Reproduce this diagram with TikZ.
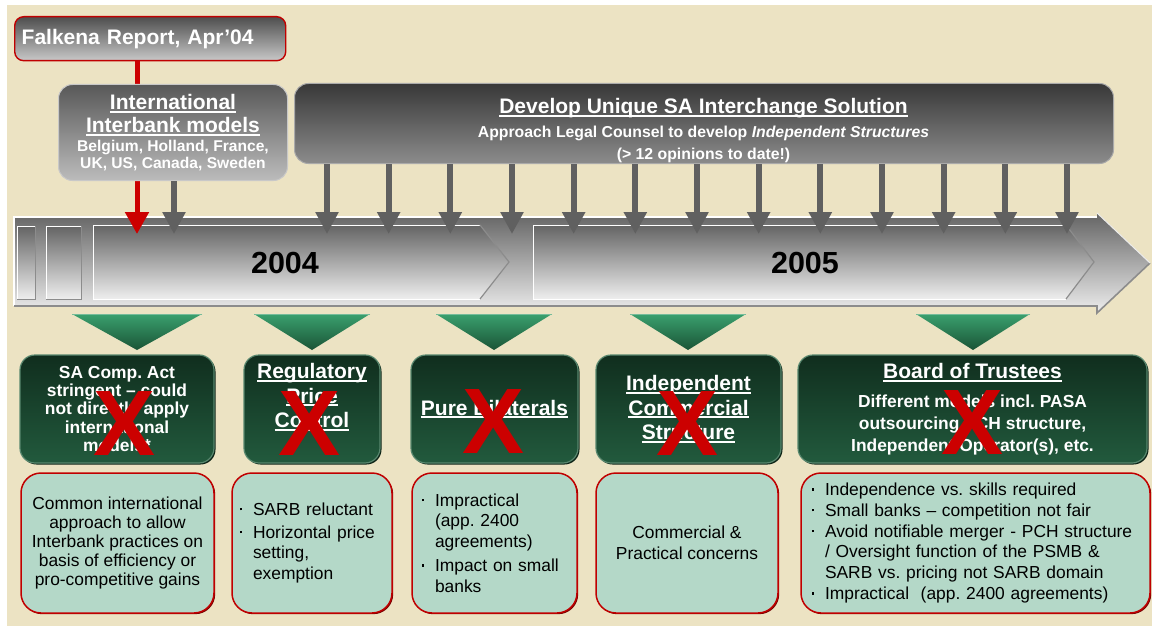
\documentclass[tikz,border=0pt]{standalone}
\usepackage{fontspec}
\setmainfont{Liberation Sans}
\usetikzlibrary{arrows.meta,shadows}
\frenchspacing

\definecolor{paper}{RGB}{236,227,195}
\definecolor{xred}{RGB}{204,0,0}
\definecolor{frame}{RGB}{192,0,0}
\definecolor{mint}{RGB}{180,216,200}
\definecolor{gtop}{RGB}{16,46,30}
\definecolor{gbot}{RGB}{34,90,61}
\definecolor{gedge}{RGB}{88,135,110}
\definecolor{gshadow}{RGB}{12,36,22}
\definecolor{ttop}{RGB}{58,160,110}
\definecolor{tbot}{RGB}{26,84,54}
\definecolor{arrowgray}{RGB}{96,96,96}
\definecolor{falktop}{RGB}{78,78,78}
\definecolor{falkbot}{RGB}{200,200,200}
\definecolor{intltop}{RGB}{88,88,88}
\definecolor{intlbot}{RGB}{188,188,188}
\definecolor{intledge}{RGB}{200,200,200}
\definecolor{devtop}{RGB}{56,56,56}
\definecolor{devbot}{RGB}{140,140,140}
\definecolor{devedge}{RGB}{170,170,170}
\definecolor{bartop}{RGB}{100,100,100}
\definecolor{barbot}{RGB}{238,238,238}
\definecolor{edgegray}{RGB}{140,140,140}

% thick underline used for the headings
\newcommand\hdul[1]{\leavevmode\setbox0=\hbox{#1}\rlap{\rule[-3.2pt]{\wd0}{1.8pt}}\box0}
% small square bullet and matching hanging indent
\newcommand\bul{\makebox[13pt][l]{\rule[5pt]{2.2pt}{2.2pt}}}
\newcommand\bulind{\hspace*{13pt}}

\tikzset{
  falkbox/.style={draw=frame, line width=1.4pt, rounded corners=9pt,
    top color=falktop, bottom color=falkbot, text=white,
    font=\bfseries\fontsize{21}{24}\selectfont, align=left,
    text width=257pt, inner xsep=7pt, inner ysep=0pt, minimum height=44pt, anchor=north west},
  intlbox/.style={draw=intledge, line width=1pt, rounded corners=14pt,
    top color=intltop, bottom color=intlbot, text=white,
    font=\bfseries\fontsize{21}{23}\selectfont, align=center,
    minimum width=229pt, minimum height=96pt, inner sep=0pt, anchor=north west},
  devbox/.style={draw=devedge, line width=1pt, rounded corners=14pt,
    top color=devtop, bottom color=devbot,
    minimum width=819pt, minimum height=80pt, inner sep=0pt, anchor=north west},
  devtext/.style={text=white, font=\bfseries\fontsize{15.8}{22}\selectfont, align=center, inner sep=0pt},
  redarrow/.style={draw=xred, line width=5pt, -{Triangle[width=23pt,length=22pt]}},
  grayarrow/.style={draw=arrowgray, line width=6pt, -{Triangle[width=22pt,length=22pt]}},
  yearlabel/.style={font=\bfseries\fontsize{30.5}{30.5}\selectfont, text=black, inner sep=0pt},
  greenbox/.style={draw=gedge, line width=1.2pt, rounded corners=15pt,
    top color=gtop, bottom color=gbot, text=white, align=center, inner sep=0pt,
    minimum height=108pt,
    drop shadow={shadow xshift=1.5pt, shadow yshift=-1.5pt, fill=gshadow, opacity=1}},
  gtext/.style={text=white, align=center, inner sep=0pt},
  gsmall/.style={font=\bfseries\fontsize{17.4}{18.3}\selectfont},
  glarge/.style={font=\bfseries\fontsize{21}{24.5}\selectfont},
  xmark/.style={text=xred, font=\bfseries\fontsize{93}{93}\selectfont, inner sep=0pt},
  mintbox/.style={draw=frame, line width=1.5pt, rounded corners=20pt, fill=mint,
    minimum height=140pt, inner xsep=10pt, inner ysep=0pt,
    font=\fontsize{17.4}{20.8}\selectfont,
    drop shadow={shadow xshift=1.2pt, shadow yshift=-1.2pt, fill=frame!60!black, opacity=1}},
}

\begin{document}
\begin{tikzpicture}[x=1pt,y=-1pt]
\useasboundingbox (0,0) rectangle (1152,626);
\fill[white] (0,0) rectangle (1152,626);
\fill[paper] (7,5) rectangle (1152,626);

% ---- time line arrow ----
\shade[top color=bartop, bottom color=barbot]
  (14,217) -- (1097,217) -- (1097,213) -- (1150,263) -- (1097,313) -- (1097,306) -- (14,306) -- cycle;
\draw[white, line width=1.2pt] (14,306) -- (14,217) -- (1097,217);
\draw[edgegray, line width=1.6pt] (14,306) -- (1097,306) -- (1097,313) -- (1150,263);
\draw[white!85!gray, line width=1pt] (1097,213) -- (1150,263);

\foreach \xa/\xb in {17/35, 46/81} {
  \shade[top color=bartop, bottom color=barbot] (\xa,226) rectangle (\xb,299);
  \draw[white, line width=1pt] (\xa,299) -- (\xa,226) -- (\xb,226);
  \draw[edgegray, line width=0.8pt] (\xb,226) -- (\xb,299) -- (\xa,299);
}
\shade[top color=bartop, bottom color=barbot]
  (93,225) -- (480,225) -- (509,262) -- (480,299) -- (93,299) -- cycle;
\draw[white, line width=1pt] (480,299) -- (93,299) -- (93,225) -- (480,225);
\draw[edgegray, line width=1.2pt] (480,225) -- (509,262) -- (480,299);
\shade[top color=bartop, bottom color=barbot]
  (533,225) -- (1066,225) -- (1094,262) -- (1066,299) -- (533,299) -- cycle;
\draw[white, line width=1pt] (1066,299) -- (533,299) -- (533,225) -- (1066,225);
\draw[edgegray, line width=1.2pt] (1066,225) -- (1094,262) -- (1066,299);

\node[yearlabel] (y2004) at (285,263) {2004};
\node[yearlabel] (y2005) at (805,263) {2005};

% ---- report box and its marker ----
\node[falkbox] (falk) at (14,16) {Falkena Report, Apr’04};
\coordinate (rtip) at (137,234);
\draw[redarrow] (falk.south -| rtip) -- (rtip);

% ---- international models ----
\node[intlbox] (intl) at (58,84) {\hdul{International}\\ \hdul{Interbank models}\\[-4pt]
  {\fontsize{15.6}{16}\selectfont Belgium, Holland, France,}\\[-6pt]
  {\fontsize{15.6}{16}\selectfont UK, US, Canada, Sweden}};
\coordinate (g0) at (174,234);
\draw[grayarrow] (intl.south -| g0) -- (g0);

% ---- legal opinions ----
\node[devbox] (dev) at (294,83) {};
\node[devtext] (devlbl) at (703.5,131)
  {{\fontsize{21}{21}\selectfont\hdul{Develop Unique SA Interchange Solution}}\\[2pt]
   Approach Legal Counsel to develop \textit{Independent Structures}\\
   (> 12 opinions to date!)};
\foreach \i in {0,...,12} {
  \coordinate (g\i d) at ({327+\i*61.667},234);
  \draw[grayarrow] (dev.south -| g\i d) -- (g\i d);
}

% ---- green pointers ----
\foreach \cx/\hw in {137/65, 312/58, 494/58, 688/58, 973/57} {
  \shade[top color=ttop, bottom color=tbot] ({\cx-\hw},314) -- ({\cx+\hw},314) -- (\cx,350) -- cycle;
  \draw[ttop!70!white, line width=0.8pt] ({\cx-\hw},314) -- ({\cx+\hw},314);
}

% ---- options considered ----
\node[greenbox, gsmall, minimum width=194pt] (b1) at (117,409)
  {SA Comp. Act\\ stringent – could\\ not directly apply\\ international\\ models*};
\node[greenbox, minimum width=136pt] (b2) at (312,409) {};
\node[gtext, glarge] (b2t) at (312,397) {\hdul{Regulatory}\\ \hdul{Price}\\ \hdul{Control}};
\node[greenbox, glarge, minimum width=167pt] (b3) at (494.5,409) {\hdul{Pure Bilaterals}};
\node[greenbox, glarge, minimum width=185pt] (b4) at (688.5,409)
  {\hdul{Independent}\\ \hdul{Commercial}\\ \hdul{Structure}};
\node[greenbox, font=\bfseries\fontsize{17.4}{22}\selectfont, minimum width=349pt] (b5) at (972.5,409)
  {{\fontsize{21}{21}\selectfont\hdul{Board of Trustees}}\\[7pt]
   Different models incl. PASA\\ outsourcing PCH structure,\\ Independent Operator(s), etc.};

\node[xmark] (x1) at (125,423.5) {X};
\node[xmark] (x2) at (310,423.5) {X};
\node[xmark] (x3) at (494,422) {X};
\node[xmark] (x4) at (688,423.5) {X};
\node[xmark] (x5) at (972.5,422.5) {X};

% ---- reasons ----
\node[mintbox, font=\fontsize{17.4}{19.2}\selectfont, minimum width=193pt, inner xsep=0pt, align=center] (m1) at (117.5,543)
  {Common international\\ approach to allow\\ Interbank practices on\\ basis of efficiency or\\ pro-competitive gains};
\node[mintbox, inner xsep=8pt, text width=144pt, align=left] (m2) at (312,543)
  {\bul SARB reluctant\\[2pt] \bul Horizontal price\\ \bulind setting,\\ \bulind exemption};
\node[mintbox, text width=145pt, align=left] (m3) at (494.5,543)
  {\bul Impractical\\ \bulind (app. 2400\\ \bulind agreements)\\[3pt] \bul Impact on small\\ \bulind banks};
\node[mintbox, minimum width=182pt, inner xsep=0pt, align=center] (m4) at (687,543)
  {Commercial \&\\ Practical concerns};
\node[mintbox, inner xsep=11pt, text width=327pt, align=left] (m5) at (975.5,543)
  {\bul Independence vs. skills required\\ \bul Small banks – competition not fair\\
   \bul Avoid notifiable merger - PCH structure\\ \bulind / Oversight function of the PSMB \&\\
   \bulind SARB vs. pricing not SARB domain\\ \bul Impractical~ (app. 2400 agreements)};
\end{tikzpicture}
\end{document}
